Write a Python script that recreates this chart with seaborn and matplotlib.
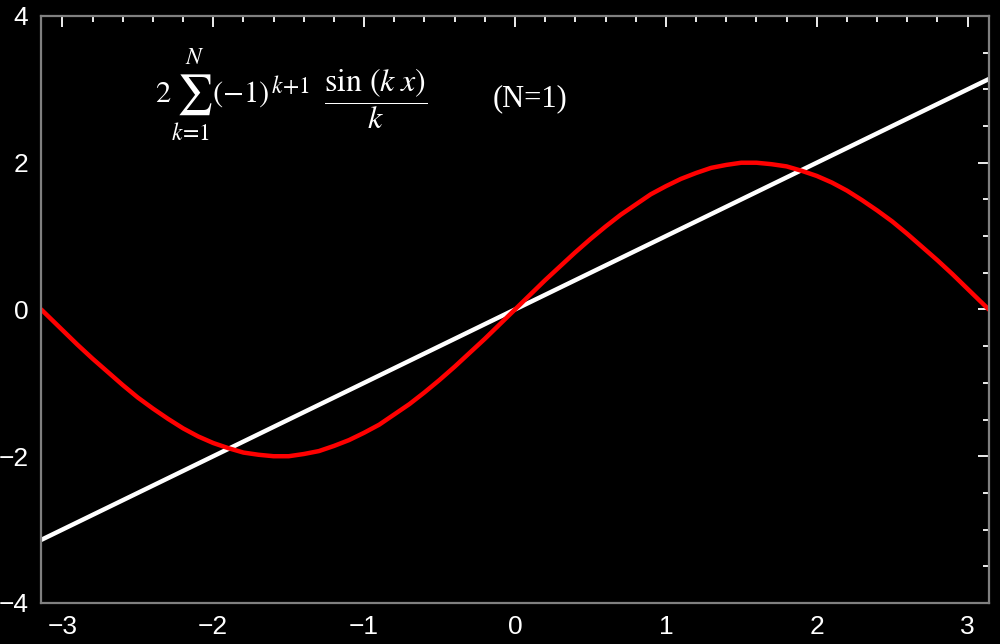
import numpy as np
import pandas as pd
import matplotlib
matplotlib.use("Agg")
import matplotlib.pyplot as plt
from matplotlib.ticker import MultipleLocator
import seaborn as sns

# -------------------------------
# DATA
# -------------------------------
x_vals = [-3.14, -3.1, -3.0, -2.9, -2.8, -2.7, -2.6, -2.5, -2.4, -2.3, -2.2, -2.1,
          -2.0, -1.9, -1.8, -1.7, -1.6, -1.5, -1.4, -1.3, -1.2, -1.1, -1.0, -0.9,
          -0.8, -0.7, -0.6, -0.5, -0.4, -0.3, -0.2, -0.1, 0.0, 0.1, 0.2, 0.3,
          0.4, 0.5, 0.6, 0.7, 0.8, 0.9, 1.0, 1.1, 1.2, 1.3, 1.4, 1.5,
          1.6, 1.7, 1.8, 1.9, 2.0, 2.1, 2.2, 2.3, 2.4, 2.5, 2.6, 2.7,
          2.8, 2.9, 3.0, 3.1, 3.14]
partial_sum = [0.00, -0.08, -0.28, -0.48, -0.67, -0.85, -1.03, -1.20, -1.35, -1.49, -1.62, -1.73,
               -1.82, -1.89, -1.95, -1.98, -2.00, -2.00, -1.97, -1.93, -1.86, -1.78, -1.68, -1.57,
               -1.43, -1.29, -1.13, -0.96, -0.78, -0.59, -0.40, -0.20, 0.00, 0.20, 0.40, 0.59,
               0.78, 0.96, 1.13, 1.29, 1.43, 1.57, 1.68, 1.78, 1.86, 1.93, 1.97, 2.00,
               2.00, 1.98, 1.95, 1.89, 1.82, 1.73, 1.62, 1.49, 1.35, 1.20, 1.03, 0.85,
               0.67, 0.48, 0.28, 0.08, 0.00]
line_x = [-3.14, 3.14]
line_y = [-3.14, 3.14]

x_ticks = [-3, -2, -1, 0, 1, 2, 3]
y_ticks = [-4, -2, 0, 2, 4]

df_sum = pd.DataFrame({"x": x_vals, "y": partial_sum})
df_line = pd.DataFrame({"x": line_x, "y": line_y})

# -------------------------------
# STYLE
# -------------------------------
sns.set_style("dark")
plt.rcParams["font.family"] = ["Liberation Sans", "DejaVu Sans"]
plt.rcParams["mathtext.fontset"] = "stix"

W, H = 1000, 644
fig = plt.figure(figsize=(W / 100, H / 100), dpi=100, facecolor="black")
ax = fig.add_axes([0.041, 0.0637, 0.948, 0.9115])
ax.set_facecolor("black")

sns.lineplot(ax=ax, data=df_line, x="x", y="y", color="white", linewidth=3.2)
sns.lineplot(ax=ax, data=df_sum, x="x", y="y", color="#ff0000", linewidth=3.2)

ax.set_xlim(-np.pi, np.pi)
ax.set_ylim(-4, 4)
ax.set_xlabel("")
ax.set_ylabel("")
ax.grid(False)

ax.set_xticks(x_ticks)
ax.set_yticks(y_ticks)
ax.xaxis.set_minor_locator(MultipleLocator(0.2))
ax.yaxis.set_minor_locator(MultipleLocator(0.5))
ax.tick_params(which="both", direction="in", color="white", top=True, right=True,
               labelcolor="white", labelsize=19)
ax.tick_params(which="major", length=8, width=1.3, pad=9)
ax.tick_params(which="minor", length=4, width=1.3)

for sp in ax.spines.values():
    sp.set_color("#808080")
    sp.set_linewidth(1.6)
    sp.set_visible(True)


# formula annotation, built from pieces (pixel positions in the figure)
def put(px, py, s, size, **kw):
    fig.text(px / W, 1 - py / H, s, color="white", fontsize=size,
             ha="center", va="center", **kw)


put(163, 94, r"$\mathrm{2}$", 22)
put(194, 95, r"$\sum$", 29)
put(195, 58, r"$N$", 17)
put(191, 134, r"$k\!=\!1$", 17)
put(241, 94, r"$(-1)$", 22)
put(291, 86, r"$k\!+\!1$", 17)
put(376, 99, r"$\dfrac{\sin\,(k\;x)}{k}$", 23)
put(530, 99, "(N=1)", 22, family=["Liberation Serif", "DejaVu Serif"])

fig.savefig("out.png", dpi=100, facecolor="black")
